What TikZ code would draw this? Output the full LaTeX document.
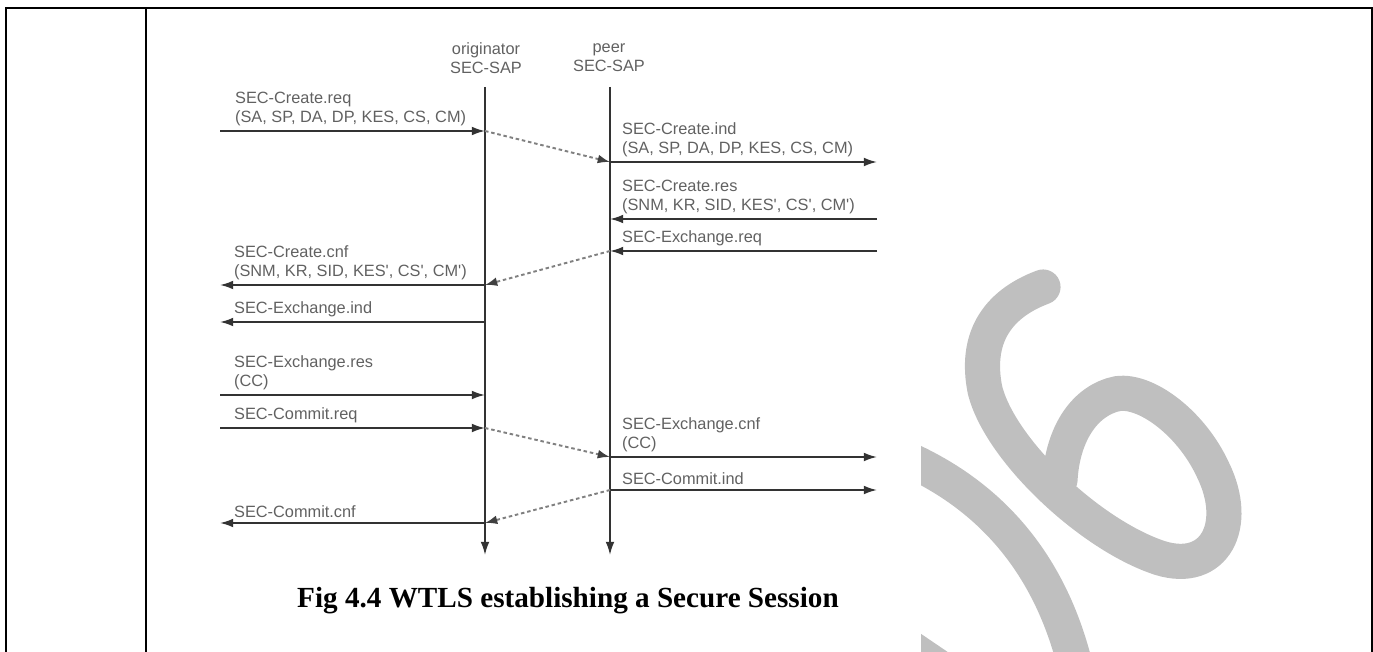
\documentclass[tikz,border=0pt]{standalone}
\usepackage{fontspec}
\setmainfont{Liberation Serif}
\newfontfamily\sapfont{Liberation Sans}
\usetikzlibrary{arrows.meta}

\begin{document}
\begin{tikzpicture}[x=0.02cm,y=-0.02cm,
  lbl/.style={font=\sapfont\fontsize{9.3}{10.8}\selectfont,text=black!62,inner sep=1pt,align=left},
  msg/.style={-{Latex[length=7.5pt,width=5pt]},line width=1pt,black!80},
  relay/.style={-{Latex[length=7pt,width=5pt,black!75]},line width=1.1pt,black!50,dash pattern=on 2pt off 1.6pt},
  wmark/.style={line width=20pt,color=black!25,line cap=round}]
  \useasboundingbox (0,0) rectangle (1373,652);

  % table frame
  \draw[line width=1.2pt] (6,652) -- (6,8) -- (1372,8) -- (1372,652);
  \draw[line width=1.2pt] (146,8) -- (146,652);

  % background mark on the right
  \begin{scope}
    \clip (921,9) rectangle (1371,652);
    \draw[wmark,line cap=butt] (880,448) .. controls (970,480) and (1045,545) .. (1075,665);
    \draw[wmark,line cap=butt] (890,634) -- (990,702);
    \draw[wmark] (1043,287) .. controls (995,305) and (975,340) .. (985,390)
      .. controls (1000,450) and (1090,535) .. (1160,558)
      .. controls (1215,575) and (1240,525) .. (1213,470)
      .. controls (1190,420) and (1140,385) .. (1112,395)
      .. controls (1080,405) and (1062,440) .. (1060,480);
  \end{scope}

  % service access points
  \node[lbl,align=center] (orighead) at (486,58) {originator\\SEC-SAP};
  \node[lbl,align=center] (peerhead) at (609,58) {peer\\SEC-SAP};
  \coordinate (otop) at (485,87);
  \coordinate (oend) at (485,555);
  \coordinate (ptop) at (610,87);
  \coordinate (pend) at (610,555);
  \draw[msg] (otop) -- (oend);
  \draw[msg] (ptop) -- (pend);

  % points on the lifelines
  \coordinate (o1) at (485,131);
  \coordinate (o2) at (485,285);
  \coordinate (o3) at (485,322);
  \coordinate (o4) at (485,395);
  \coordinate (o5) at (485,428);
  \coordinate (o6) at (485,523);
  \coordinate (p1) at (610,162);
  \coordinate (p2) at (610,219);
  \coordinate (p3) at (610,251);
  \coordinate (p4) at (610,457);
  \coordinate (p5) at (610,490);
  % user side ends
  \coordinate (l1) at (220,131);
  \coordinate (l2) at (220,285);
  \coordinate (l3) at (220,322);
  \coordinate (l4) at (220,395);
  \coordinate (l5) at (220,428);
  \coordinate (l6) at (220,523);
  \coordinate (r1) at (877,162);
  \coordinate (r2) at (877,219);
  \coordinate (r3) at (877,251);
  \coordinate (r4) at (877,457);
  \coordinate (r5) at (877,490);

  % create
  \draw[msg] (l1) -- (o1);
  \node[lbl,anchor=south west] (createreq) at (233,128) {SEC-Create.req\\(SA, SP, DA, DP, KES, CS, CM)};
  \draw[relay] (o1) -- (p1);
  \draw[msg] (p1) -- (r1);
  \node[lbl,anchor=south west] (createind) at (620,159) {SEC-Create.ind\\(SA, SP, DA, DP, KES, CS, CM)};
  \draw[msg] (r2) -- (p2);
  \node[lbl,anchor=south west] (createres) at (620,216) {SEC-Create.res\\(SNM, KR, SID, KES', CS', CM')};
  \draw[msg] (r3) -- (p3);
  \node[lbl,anchor=south west] (exchreq) at (620,248) {SEC-Exchange.req};
  \draw[relay] (p3) -- (o2);
  \draw[msg] (o2) -- (l2);
  \node[lbl,anchor=south west] (createcnf) at (232,282) {SEC-Create.cnf\\(SNM, KR, SID, KES', CS', CM')};

  % exchange
  \draw[msg] (o3) -- (l3);
  \node[lbl,anchor=south west] (exchind) at (232,319) {SEC-Exchange.ind};
  \draw[msg] (l4) -- (o4);
  \node[lbl,anchor=south west] (exchres) at (232,392) {SEC-Exchange.res\\(CC)};

  % commit
  \draw[msg] (l5) -- (o5);
  \node[lbl,anchor=south west] (commitreq) at (232,425) {SEC-Commit.req};
  \draw[relay] (o5) -- (p4);
  \draw[msg] (p4) -- (r4);
  \node[lbl,anchor=south west] (exchcnf) at (620,454) {SEC-Exchange.cnf\\(CC)};
  \draw[msg] (p5) -- (r5);
  \node[lbl,anchor=south west] (commitind) at (620,487) {SEC-Commit.ind};
  \draw[relay] (p5) -- (o6);
  \draw[msg] (o6) -- (l6);
  \node[lbl,anchor=south west] (commitcnf) at (232,520) {SEC-Commit.cnf};

  \node[font=\bfseries\fontsize{16.6}{20}\selectfont] (caption) at (568,601) {Fig 4.4 WTLS establishing a Secure Session};
\end{tikzpicture}
\end{document}
